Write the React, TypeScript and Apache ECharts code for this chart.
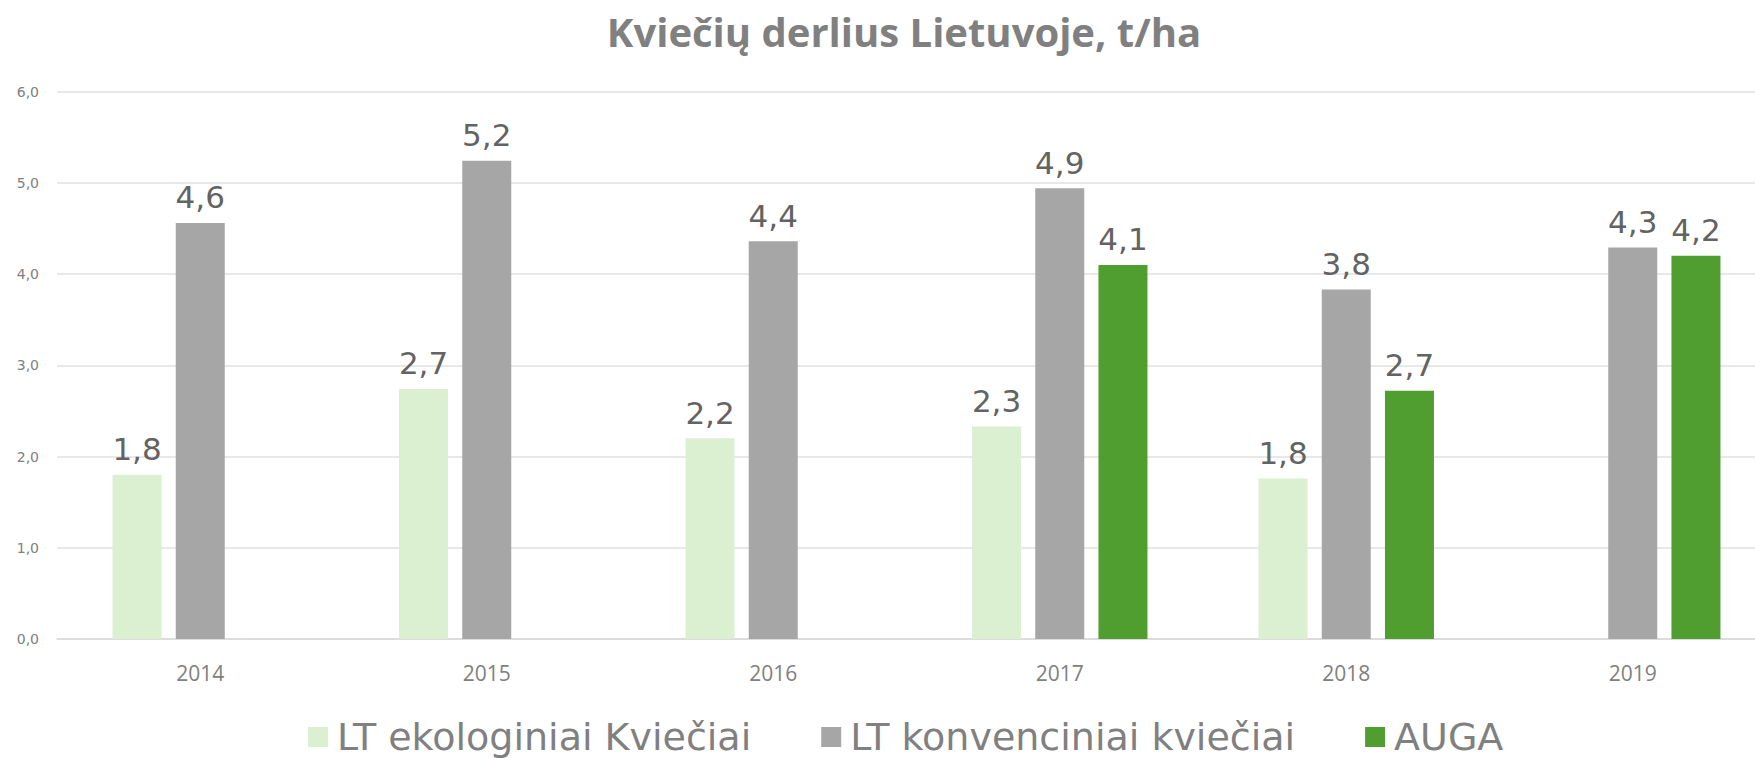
import React, { useEffect, useRef } from "react";
import * as echarts from "echarts";

const categories = ["2014", "2015", "2016", "2017", "2018", "2019"];
const seriesNames = ["LT ekologiniai Kviečiai", "LT konvenciniai kviečiai", "AUGA"];
const ekologiniai = [1.8, 2.74, 2.2, 2.33, 1.76, null];
const konvenciniai = [4.56, 5.24, 4.36, 4.94, 3.83, 4.29];
const auga = [null, null, null, 4.1, 2.72, 4.2];
const yTicks = { min: 0, max: 6, interval: 1 };
const colors = ["#DAF0D0", "#A6A6A6", "#509E2F"];

const fmt = (v: number) => v.toFixed(1).replace(".", ",");

export default function App() {
  const ref = useRef<HTMLDivElement>(null);
  useEffect(() => {
    if (!ref.current) return;
    const chart = echarts.init(ref.current, undefined, { renderer: "svg" });
    const mk = (name: string, data: (number | null)[], color: string) => ({
      name,
      type: "bar",
      data,
      barWidth: 49,
      barGap: "29%",
      itemStyle: { color },
      label: {
        show: true,
        position: "top",
        distance: 10,
        formatter: (p: any) => fmt(p.value),
        fontFamily: "DejaVu Sans",
        fontSize: 31,
        color: "#636363",
      },
    });
    chart.setOption({
      animation: false,
      backgroundColor: "#ffffff",
      title: {
        text: "Kviečių derlius Lietuvoje, t/ha",
        left: "center",
        top: 6,
        textStyle: {
          fontFamily: "Open Sans",
          fontWeight: "bold",
          fontSize: 40,
          color: "#808080",
        },
      },
      legend: {
        data: seriesNames,
        left: 303,
        top: 713,
        itemWidth: 20,
        itemHeight: 20,
        itemGap: 70,
        icon: "rect",
        textStyle: {
          fontFamily: "DejaVu Sans",
          fontSize: 38,
          lineHeight: 38,
          color: "#808080",
          padding: [0, 0, 0, 4],
        },
      },
      grid: { left: 57, right: 32, top: 91.5, bottom: 119, containLabel: false },
      xAxis: {
        type: "category",
        data: categories,
        axisTick: { show: false },
        axisLine: { lineStyle: { color: "#D9D9D9", width: 1.5 } },
        axisLabel: {
          fontFamily: "Open Sans",
          fontSize: 21,
          color: "#808080",
          margin: 23,
        },
      },
      yAxis: {
        type: "value",
        min: yTicks.min,
        max: yTicks.max,
        interval: yTicks.interval,
        axisLabel: {
          formatter: (v: number) => fmt(v),
          fontFamily: "DejaVu Sans",
          fontSize: 14,
          color: "#808080",
          margin: 18,
        },
        splitLine: { lineStyle: { color: "#E0E0E0", width: 1.5 } },
        axisLine: { show: false },
        axisTick: { show: false },
      },
      series: [
        mk(seriesNames[0], ekologiniai, colors[0]),
        mk(seriesNames[1], konvenciniai, colors[1]),
        mk(seriesNames[2], auga, colors[2]),
      ],
    });
    return () => chart.dispose();
  }, []);
  return (
    <div
      style={{
        position: "fixed",
        left: 0,
        top: 0,
        width: 1755,
        height: 758,
        overflow: "hidden",
        background: "#ffffff",
      }}
    >
      <div ref={ref} style={{ width: 1808, height: 758 }} />
    </div>
  );
}
